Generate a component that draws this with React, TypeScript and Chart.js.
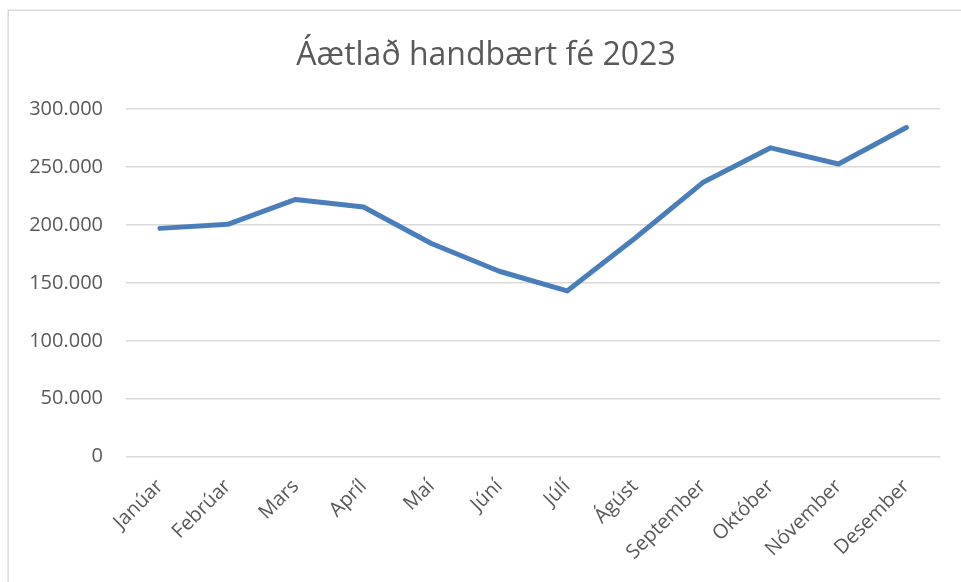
import React, { useEffect, useRef } from "react";
import { Chart, registerables } from "chart.js";

Chart.register(...registerables);

const title = "Áætlað handbært fé 2023";
const months = [
  "Janúar", "Febrúar", "Mars", "Apríl", "Maí", "Júní",
  "Júlí", "Ágúst", "September", "Október", "Nóvember", "Desember",
];
const cash = [
  197000, 200500, 222000, 215500, 184000, 160000,
  143000, 188500, 236500, 266500, 252500, 284000,
];
const yMin = 0;
const yMax = 300000;
const yStep = 50000;

const fmt = (v: number) =>
  String(Math.round(v)).replace(/\B(?=(\d{3})+(?!\d))/g, ".");

const frame = {
  id: "frame",
  beforeDraw(chart: any) {
    const ctx = chart.ctx;
    ctx.save();
    ctx.fillStyle = "#ffffff";
    ctx.fillRect(0, 0, chart.width, chart.height);
    ctx.strokeStyle = "#d9d9d9";
    ctx.lineWidth = 1.5;
    ctx.strokeRect(8.25, 10.25, 2000, 2000);
    ctx.restore();
  },
  afterDraw(chart: any) {
    const ctx = chart.ctx;
    ctx.save();
    ctx.fillStyle = "#595959";
    ctx.font = "32px 'Open Sans'";
    ctx.textAlign = "center";
    ctx.textBaseline = "alphabetic";
    ctx.fillText(title, 486, 65);
    ctx.restore();
  },
};

export default function App() {
  const ref = useRef<HTMLCanvasElement | null>(null);
  useEffect(() => {
    document.body.style.margin = "0";
    const chart = new Chart(ref.current as HTMLCanvasElement, {
      type: "line",
      data: {
        labels: months,
        datasets: [
          {
            data: cash,
            borderColor: "#4a7ebb",
            backgroundColor: "#4a7ebb",
            borderWidth: 5,
            pointRadius: 0,
            tension: 0,
            borderCapStyle: "round",
            borderJoinStyle: "round",
          },
        ],
      },
      options: {
        animation: false,
        responsive: false,
        layout: { padding: { left: 0, right: 20.7, top: 109, bottom: 0 } },
        plugins: {
          legend: { display: false },
          tooltip: { enabled: false },
          title: { display: false },
        },
        scales: {
          x: {
            offset: true,
            grid: { display: false, drawTicks: false },
            border: { display: false },
            ticks: {
              color: "#595959",
              font: { family: "Open Sans", size: 20 },
              minRotation: 45,
              maxRotation: 45,
              autoSkip: false,
              padding: 18,
            },
            afterFit: (s: any) => {
              s.height = 125.3;
            },
          },
          y: {
            min: yMin,
            max: yMax,
            grid: { color: "#d9d9d9", lineWidth: 1.5, drawTicks: false },
            border: { display: false },
            ticks: {
              stepSize: yStep,
              color: "#595959",
              font: { family: "Open Sans", size: 20 },
              padding: 23,
              callback: (v: any) => fmt(Number(v)),
            },
            afterFit: (s: any) => {
              s.width = 126;
            },
          },
        },
      },
      plugins: [frame],
    });
    return () => chart.destroy();
  }, []);
  return <canvas ref={ref} width={961} height={582} style={{ display: "block" }} />;
}
